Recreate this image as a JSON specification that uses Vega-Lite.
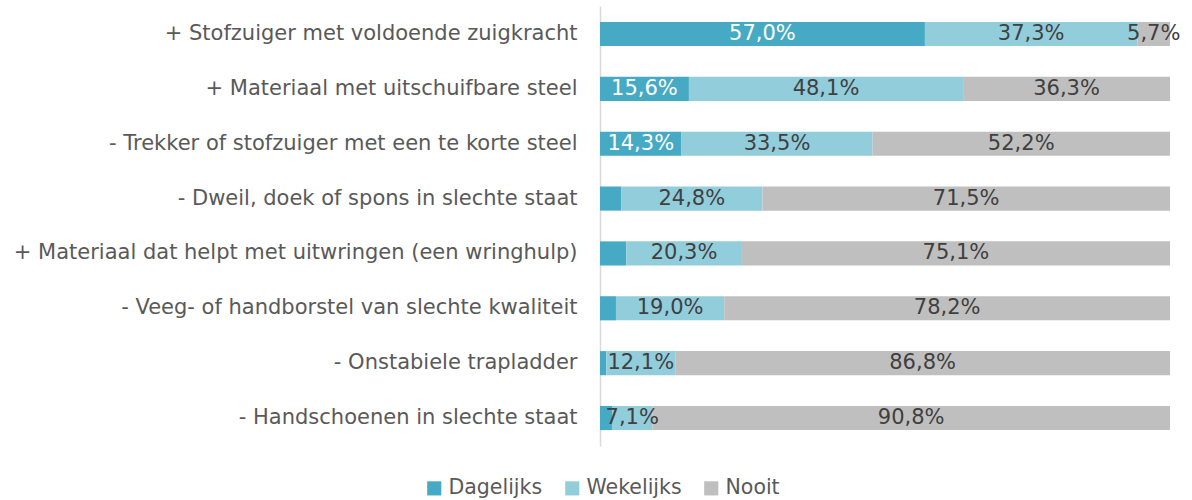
{
  "$schema": "https://vega.github.io/schema/vega-lite/v6.json",
  "autosize": "none",
  "width": 570,
  "height": 440,
  "padding": {"left": 600, "top": 6, "right": 22, "bottom": 54},
  "background": "white",
  "config": {
    "view": {"stroke": null},
    "font": "DejaVu Sans",
    "locale": {"number": {"decimal": ",", "thousands": ".", "grouping": [3], "currency": ["€", ""]}}
  },
  "data": {
    "values": [
      {"cat": "+ Stofzuiger met voldoende zuigkracht", "freq": "Dagelijks", "ord": 1, "value": 0.570},
      {"cat": "+ Stofzuiger met voldoende zuigkracht", "freq": "Wekelijks", "ord": 2, "value": 0.373},
      {"cat": "+ Stofzuiger met voldoende zuigkracht", "freq": "Nooit", "ord": 3, "value": 0.057},
      {"cat": "+ Materiaal met uitschuifbare steel", "freq": "Dagelijks", "ord": 1, "value": 0.156},
      {"cat": "+ Materiaal met uitschuifbare steel", "freq": "Wekelijks", "ord": 2, "value": 0.481},
      {"cat": "+ Materiaal met uitschuifbare steel", "freq": "Nooit", "ord": 3, "value": 0.363},
      {"cat": "- Trekker of stofzuiger met een te korte steel", "freq": "Dagelijks", "ord": 1, "value": 0.143},
      {"cat": "- Trekker of stofzuiger met een te korte steel", "freq": "Wekelijks", "ord": 2, "value": 0.335},
      {"cat": "- Trekker of stofzuiger met een te korte steel", "freq": "Nooit", "ord": 3, "value": 0.522},
      {"cat": "- Dweil, doek of spons in slechte staat", "freq": "Dagelijks", "ord": 1, "value": 0.037},
      {"cat": "- Dweil, doek of spons in slechte staat", "freq": "Wekelijks", "ord": 2, "value": 0.248},
      {"cat": "- Dweil, doek of spons in slechte staat", "freq": "Nooit", "ord": 3, "value": 0.715},
      {"cat": "+ Materiaal dat helpt met uitwringen (een wringhulp)", "freq": "Dagelijks", "ord": 1, "value": 0.046},
      {"cat": "+ Materiaal dat helpt met uitwringen (een wringhulp)", "freq": "Wekelijks", "ord": 2, "value": 0.203},
      {"cat": "+ Materiaal dat helpt met uitwringen (een wringhulp)", "freq": "Nooit", "ord": 3, "value": 0.751},
      {"cat": "- Veeg- of handborstel van slechte kwaliteit", "freq": "Dagelijks", "ord": 1, "value": 0.028},
      {"cat": "- Veeg- of handborstel van slechte kwaliteit", "freq": "Wekelijks", "ord": 2, "value": 0.190},
      {"cat": "- Veeg- of handborstel van slechte kwaliteit", "freq": "Nooit", "ord": 3, "value": 0.782},
      {"cat": "- Onstabiele trapladder", "freq": "Dagelijks", "ord": 1, "value": 0.011},
      {"cat": "- Onstabiele trapladder", "freq": "Wekelijks", "ord": 2, "value": 0.121},
      {"cat": "- Onstabiele trapladder", "freq": "Nooit", "ord": 3, "value": 0.868},
      {"cat": "- Handschoenen in slechte staat", "freq": "Dagelijks", "ord": 1, "value": 0.021},
      {"cat": "- Handschoenen in slechte staat", "freq": "Wekelijks", "ord": 2, "value": 0.071},
      {"cat": "- Handschoenen in slechte staat", "freq": "Nooit", "ord": 3, "value": 0.908}
    ]
  },
  "transform": [
    {"stack": "value", "groupby": ["cat"], "sort": [{"field": "ord", "order": "ascending"}], "as": ["x0", "x1"]},
    {"calculate": "(datum.x0 + datum.x1) / 2", "as": "mid"}
  ],
  "encoding": {
    "y": {
      "field": "cat", "type": "nominal", "sort": null, "title": null,
      "scale": {"paddingInner": 0.56, "paddingOuter": 0.29},
      "axis": {
        "ticks": false, "labelFontSize": 21, "labelColor": "#595959", "labelPadding": 23,
        "domainColor": "#D9D9D9", "domainWidth": 1.5, "labelLimit": 700
      }
    }
  },
  "layer": [
    {
      "mark": {"type": "bar"},
      "encoding": {
        "x": {"field": "x0", "type": "quantitative", "scale": {"domain": [0, 1]}, "axis": null},
        "x2": {"field": "x1"},
        "color": {
          "field": "freq", "type": "nominal",
          "scale": {"domain": ["Dagelijks", "Wekelijks", "Nooit"], "range": ["#46AAC4", "#92CDDC", "#BFBFBF"]},
          "legend": {
            "title": null, "orient": "none", "direction": "horizontal",
            "legendX": -176, "legendY": 472,
            "symbolType": "square", "symbolSize": 200, "symbolStrokeWidth": 0,
            "labelFontSize": 20.5, "labelColor": "#595959", "labelOffset": 4, "columnPadding": 19
          }
        }
      }
    },
    {
      "transform": [{"filter": "datum.value >= 0.05"}],
      "mark": {"type": "text", "fontSize": 21, "baseline": "middle", "align": "center"},
      "encoding": {
        "x": {"field": "mid", "type": "quantitative"},
        "text": {"field": "value", "type": "quantitative", "format": ".1%"},
        "color": {
          "condition": {"test": "datum.freq === 'Dagelijks'", "value": "#FFFFFF"},
          "value": "#404040"
        }
      }
    }
  ]
}
